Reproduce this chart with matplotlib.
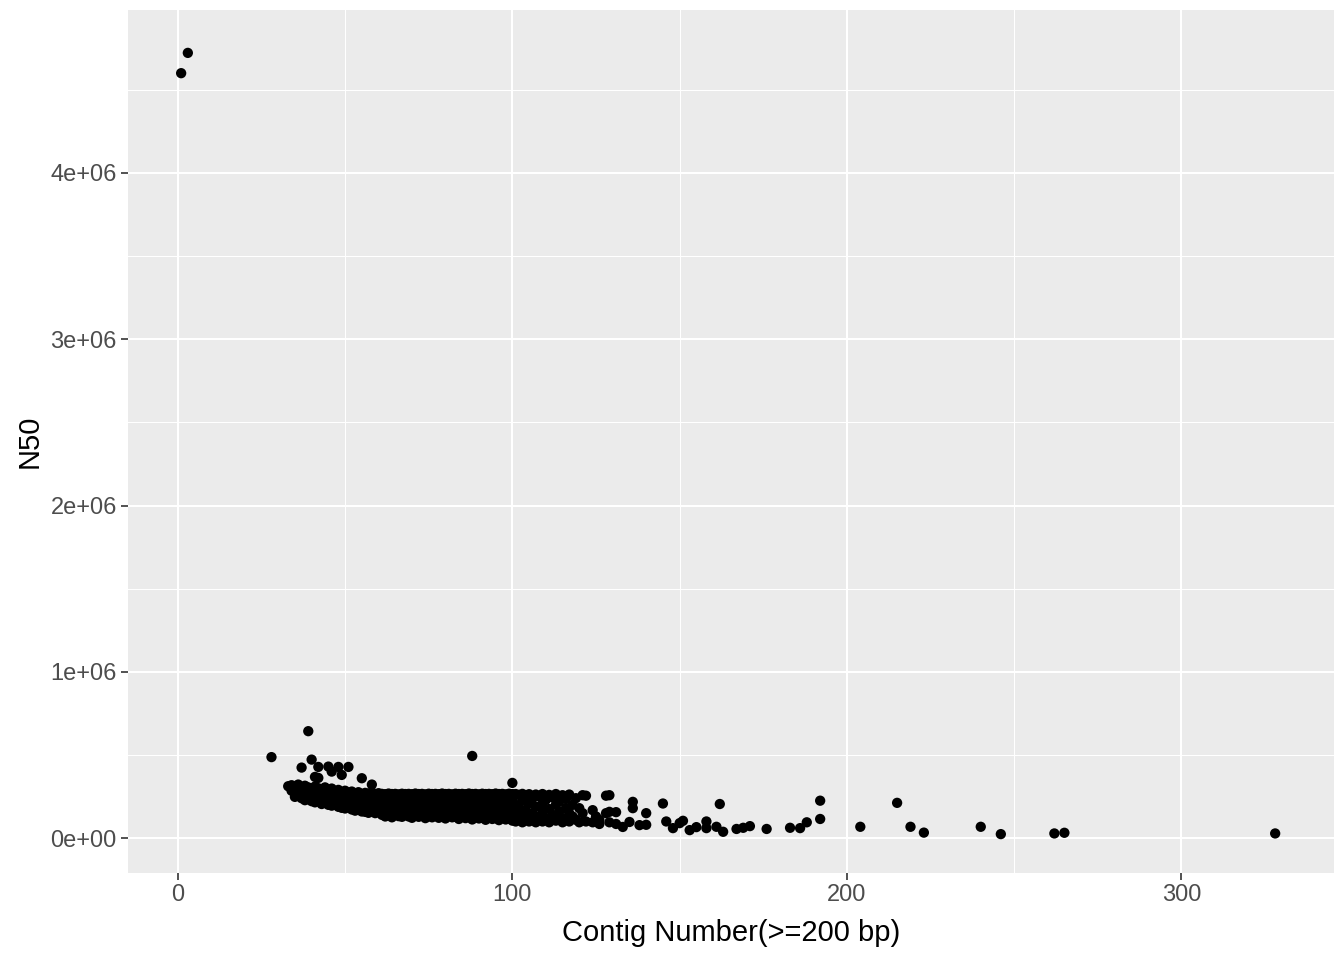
import numpy as np
import matplotlib
matplotlib.use("Agg")
import matplotlib.pyplot as plt
from matplotlib.ticker import FixedLocator, FuncFormatter

plt.rcParams["font.family"] = ["Liberation Sans", "DejaVu Sans"]

# isolated assemblies (contig number, N50)
outlier_x = [1, 3, 28, 39, 40, 37, 42, 45, 48, 51, 41, 42, 46, 49, 55, 58, 88, 100]
outlier_y = [4600000, 4722000, 487000, 643000, 472000, 424000, 428000, 430000, 428000,
             428000, 368000, 362000, 400000, 380000, 360000, 322000, 494000, 332000]

# dense band: contig number -> N50 values (thousands)
band_x = list(range(33, 61))
band_y = [
    [312], [318, 285], [305, 270, 248], [322, 290, 255], [300, 268, 240],
    [315, 280, 250, 228], [305, 262, 235], [298, 270, 238, 222], [310, 275, 245, 215],
    [300, 262, 230], [292, 255, 220, 205], [305, 268, 236], [285, 250, 215, 200],
    [298, 262, 228, 195], [280, 245, 210], [290, 255, 222, 188], [275, 240, 200, 182],
    [285, 250, 215, 178], [272, 236, 198], [280, 245, 205, 172], [268, 230, 192, 165],
    [276, 240, 210, 170], [265, 228, 188, 160], [272, 238, 200, 158], [268, 230, 190, 152],
    [275, 242, 205, 165], [265, 225, 180, 150], [270, 235, 198, 160],
]

mid_x = list(range(61, 101))
mid_y = [
    [266, 235, 200, 165, 140], [264, 228, 190, 150, 130], [268, 240, 205, 170, 138],
    [265, 230, 195, 158, 125], [266, 238, 202, 168, 142], [263, 226, 188, 148, 132],
    [267, 236, 198, 162, 128], [265, 232, 205, 170, 140], [266, 228, 192, 155, 130],
    [264, 240, 200, 165, 122], [268, 234, 196, 160, 135], [265, 226, 190, 152, 128],
    [266, 238, 204, 168, 140], [263, 230, 195, 158, 120], [267, 235, 200, 165, 132],
    [265, 228, 188, 150, 125], [266, 240, 206, 170, 138], [264, 232, 194, 156, 122],
    [268, 236, 198, 162, 130], [265, 226, 192, 155, 118], [266, 238, 202, 168, 135],
    [263, 230, 196, 160, 125], [267, 234, 200, 165, 128], [265, 228, 190, 150, 115],
    [266, 240, 205, 170, 132], [264, 232, 195, 158, 120], [268, 236, 198, 162, 126],
    [265, 226, 188, 152, 112], [266, 238, 204, 168, 130], [263, 230, 194, 156, 118],
    [267, 235, 200, 165, 122], [265, 228, 190, 148, 110], [266, 240, 206, 170, 128],
    [264, 232, 195, 158, 115], [268, 236, 198, 160, 120], [265, 226, 188, 150, 108],
    [266, 238, 202, 166, 125], [263, 230, 194, 155, 112], [267, 234, 200, 162, 118],
    [265, 228, 190, 148, 105],
]

tail_x = [101, 102, 103, 104, 105, 106, 107, 108, 109, 110, 111, 112, 113, 114, 115,
          116, 117, 118, 119, 120, 121, 122, 124, 125, 126, 128, 129, 131, 133, 135,
          136, 138, 140, 145, 146, 148, 150, 151, 153, 155, 158, 161, 162, 163, 167,
          169, 171, 176, 183, 186, 188, 192, 204, 215, 219, 223, 240, 246, 262, 265, 328]
tail_y = [
    [265, 200, 130, 100], [260, 180, 110], [266, 225, 150, 95], [255, 170, 120],
    [264, 210, 100], [240, 150, 110], [262, 190, 95], [250, 130], [265, 205, 160, 100],
    [230, 120], [260, 175, 95], [245, 140], [265, 200, 105], [220, 160], [258, 120, 95],
    [235, 180], [262, 150, 100], [200, 130], [240, 110], [180, 95], [258, 150],
    [255, 100], [168, 95], [130], [110, 85], [255, 150], [258, 158, 95], [156, 85],
    [67], [97], [218, 180], [78], [150, 80], [208], [100], [60], [90], [104], [48],
    [66], [100, 60], [68], [205], [38], [55], [62], [72], [55], [62], [60], [95],
    [225, 115], [68], [212], [68], [33], [68], [24], [28], [32], [28],
]

x_ticks = [0, 100, 200, 300]
y_ticks = [0, 1e6, 2e6, 3e6, 4e6]
y_tick_labels = ["0e+00", "1e+06", "2e+06", "3e+06", "4e+06"]

xs = list(outlier_x)
ys = list(outlier_y)
for cols, vals in [(band_x, band_y), (mid_x, mid_y), (tail_x, tail_y)]:
    for cx, cy in zip(cols, vals):
        for v in cy:
            xs.append(cx)
            ys.append(v * 1000)
xs = np.array(xs, dtype=float)
ys = np.array(ys, dtype=float)

fig = plt.figure(figsize=(13.44, 9.6), dpi=100)
ax = fig.add_axes([0.0952, 0.0906, 0.8974, 0.8990])
ax.set_facecolor("#EBEBEB")

ax.set_xlim(-14.9, 345.6)
ax.set_ylim(-0.21e6, 4.98e6)

ax.xaxis.set_major_locator(FixedLocator(x_ticks))
ax.xaxis.set_minor_locator(FixedLocator([50, 150, 250]))
ax.yaxis.set_major_locator(FixedLocator(y_ticks))
ax.yaxis.set_minor_locator(FixedLocator([5e5, 1.5e6, 2.5e6, 3.5e6, 4.5e6]))
ax.yaxis.set_major_formatter(FuncFormatter(lambda v, p: y_tick_labels[y_ticks.index(v)] if v in y_ticks else ""))

ax.grid(which="major", color="white", linewidth=1.5)
ax.grid(which="minor", color="white", linewidth=0.75)
ax.set_axisbelow(True)
for s in ax.spines.values():
    s.set_visible(False)

ax.tick_params(which="major", length=5, width=1.2, color="#333333",
               labelsize=17, labelcolor="#4D4D4D", pad=3)
ax.tick_params(which="minor", length=0)

ax.scatter(xs, ys, s=55, color="black", edgecolors="none", zorder=3)

ax.set_xlabel("Contig Number(>=200 bp)", fontsize=21, color="black", labelpad=9)
ax.set_ylabel("N50", fontsize=21, color="black", labelpad=5)

fig.savefig("out.png", dpi=100)
